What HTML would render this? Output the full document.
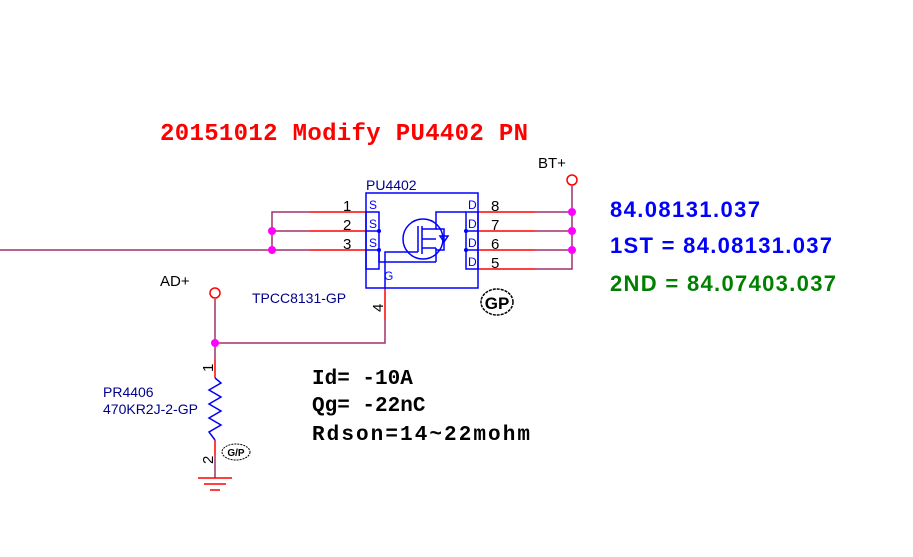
<!DOCTYPE html>
<html><head><style>body{margin:0;background:#fff}svg{display:block}</style></head><body>
<svg width="913" height="557" viewBox="0 0 913 557" xmlns="http://www.w3.org/2000/svg" font-family="Liberation Sans, sans-serif">
<text x="160" y="140" font-family="Liberation Mono, monospace" font-weight="bold" font-size="24" fill="#f00" textLength="368">20151012 Modify PU4402 PN</text>
<g stroke="#a0306a" stroke-width="1.5" fill="none">
<line x1="0" y1="250" x2="310" y2="250"/>
<polyline points="310,212 272,212 272,250"/>
<line x1="272" y1="231" x2="310" y2="231"/>
<polyline points="535,212 572,212 572,269 535,269"/>
<line x1="535" y1="231" x2="572" y2="231"/>
<line x1="535" y1="250" x2="572" y2="250"/>
<line x1="572" y1="186" x2="572" y2="212"/>
<polyline points="385,320 385,343 215,343"/>
<line x1="215" y1="299" x2="215" y2="360"/>
<line x1="215" y1="455" x2="215" y2="478"/>
</g>
<g stroke="#f00" stroke-width="1.5" fill="none">
<line x1="310" y1="212" x2="366" y2="212"/><line x1="310" y1="231" x2="366" y2="231"/><line x1="310" y1="250" x2="366" y2="250"/>
<line x1="478" y1="212" x2="535" y2="212"/><line x1="478" y1="231" x2="535" y2="231"/><line x1="478" y1="250" x2="535" y2="250"/><line x1="478" y1="269" x2="535" y2="269"/>
<line x1="385" y1="288" x2="385" y2="320"/>
<line x1="215" y1="360" x2="215" y2="378"/><line x1="215" y1="440" x2="215" y2="455"/>
<circle cx="572" cy="180" r="5" fill="#fff"/><circle cx="215" cy="293" r="5" fill="#fff"/>
<line x1="198" y1="478" x2="232" y2="478"/><line x1="204" y1="484" x2="226" y2="484"/><line x1="210" y1="490" x2="220" y2="490"/>
</g>
<g stroke="#00f" stroke-width="1.5" fill="none">
<rect x="366" y="193" width="112" height="95"/>
<rect x="366" y="212" width="13" height="57"/>
<line x1="366" y1="231" x2="379" y2="231"/><line x1="366" y1="250" x2="379" y2="250"/>
<rect x="466" y="212" width="12" height="57"/>
<line x1="466" y1="231" x2="478" y2="231"/><line x1="466" y1="250" x2="478" y2="250"/>
<polyline points="379,250 379,262 436,262"/>
<polyline points="385,288 385,252 418,252"/>
<circle cx="423" cy="239" r="20"/>
<line x1="418" y1="226" x2="418" y2="252"/>
<line x1="422" y1="226" x2="422" y2="254"/>
<polyline points="422,229 436,229 436,212 466,212"/>
<line x1="422" y1="248" x2="436" y2="248"/><line x1="436" y1="248" x2="436" y2="262"/>
<line x1="422" y1="239" x2="436" y2="239"/>
<polyline points="436,229 444,229 444,250 436,250"/>
<polygon points="440,236 448,236 444,242"/>
</g>
<g fill="#00f"><circle cx="379" cy="231" r="2"/><circle cx="379" cy="250" r="2"/><circle cx="466" cy="231" r="2"/><circle cx="466" cy="250" r="2"/></g>
<polyline points="215,378 221,383 209,390 221,397 209,404 221,411 209,418 221,425 209,432 215,440" stroke="#00f" stroke-width="1.5" fill="none"/>
<g fill="#f0f"><circle cx="272" cy="231" r="4"/><circle cx="272" cy="250" r="4"/><circle cx="572" cy="212" r="4"/><circle cx="572" cy="231" r="4"/><circle cx="572" cy="250" r="4"/><circle cx="215" cy="343" r="4"/></g>
<g font-size="12" fill="#00f"><text x="369" y="209">S</text><text x="369" y="228">S</text><text x="369" y="247">S</text><text x="468" y="209">D</text><text x="468" y="228">D</text><text x="468" y="247">D</text><text x="468" y="266">D</text><text x="384" y="280">G</text></g>
<g font-size="15" fill="#000"><text x="343" y="211">1</text><text x="343" y="230">2</text><text x="343" y="249">3</text><text x="491" y="211">8</text><text x="491" y="230">7</text><text x="491" y="249">6</text><text x="491" y="268">5</text>
<text x="538" y="168">BT+</text><text x="160" y="286">AD+</text>
<text transform="translate(383,312) rotate(-90)">4</text><text transform="translate(213,372) rotate(-90)">1</text><text transform="translate(213,464) rotate(-90)">2</text></g>
<g font-size="14" fill="#00008b"><text x="366" y="190">PU4402</text><text x="252" y="303">TPCC8131-GP</text><text x="103" y="397">PR4406</text><text x="103" y="414">470KR2J-2-GP</text></g>
<ellipse cx="497" cy="302" rx="16" ry="13" fill="#fff" stroke="#000" stroke-width="1.5" stroke-dasharray="3,1"/>
<text x="497" y="309" font-size="17" font-weight="bold" text-anchor="middle">GP</text>
<ellipse cx="236" cy="452" rx="14" ry="8" fill="#fff" stroke="#000" stroke-width="1" stroke-dasharray="2,1"/>
<text x="236" y="456" font-size="10" font-weight="bold" text-anchor="middle">G/P</text>
<g font-family="Liberation Mono, monospace" font-weight="bold" font-size="21"><text x="312" y="384">Id= -10A</text><text x="312" y="411">Qg= -22nC</text><text x="312" y="440" textLength="218">Rdson=14~22mohm</text></g>
<g font-weight="bold" font-size="22"><text x="610" y="217" fill="#00f" textLength="150">84.08131.037</text><text x="610" y="253" fill="#00f" textLength="222">1ST = 84.08131.037</text><text x="610" y="291" fill="#008000" textLength="226">2ND = 84.07403.037</text></g>
</svg>
</body></html>
